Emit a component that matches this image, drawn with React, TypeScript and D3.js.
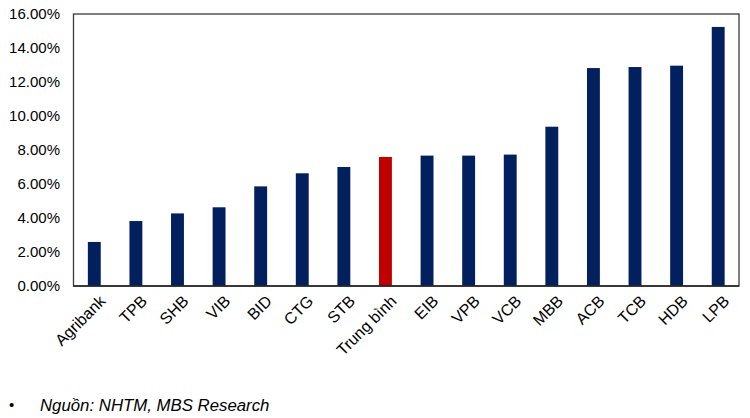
import React from "react";
import * as d3 from "d3";

const categories = ["Agribank", "TPB", "SHB", "VIB", "BID", "CTG", "STB", "Trung bình", "EIB", "VPB", "VCB", "MBB", "ACB", "TCB", "HDB", "LPB"];
const values = [2.59, 3.82, 4.27, 4.63, 5.86, 6.63, 7.0, 7.59, 7.67, 7.67, 7.73, 9.37, 12.82, 12.88, 12.96, 15.24];
const highlight = ["Trung bình"];
const yTicks = [0, 2, 4, 6, 8, 10, 12, 14, 16];
const sourceText = "Nguồn: NHTM, MBS Research";

export default function App() {
  const W = 750, H = 418;
  const left = 73.5, right = 739, top = 14, bottom = 286;
  const x = d3.scaleBand<string>().domain(categories).range([left, right]).paddingInner(0.69).paddingOuter(0.345);
  const y = d3.scaleLinear().domain([0, 16]).range([bottom, top]);
  const font = "Liberation Sans, Arial, sans-serif";
  return (
    <svg width={W} height={H} style={{ position: "absolute", left: 0, top: 0, background: "#fff" }} fontFamily={font}>
      {categories.map((c, i) => (
        <rect key={c} x={x(c)} y={y(values[i])} width={x.bandwidth()} height={y(0) - y(values[i])}
          fill={highlight.includes(c) ? "#c00000" : "#021f5e"} />
      ))}
      <rect x={left} y={top} width={right - left} height={bottom - top} fill="none" stroke="#3a3a3a" strokeWidth={1.3} />
      <line x1={left} x2={right} y1={bottom} y2={bottom} stroke="#222" strokeWidth={1.6} />
      {yTicks.map(t => (
        <text key={t} x={60} y={y(t)} dy="0.36em" textAnchor="end" fontSize={15} fill="#000">{t.toFixed(2)}%</text>
      ))}
      {categories.map(c => {
        const cx = (x(c) as number) + x.bandwidth() / 2 + 4;
        const cy = bottom + 8;
        return (
          <text key={c} transform={`translate(${cx},${cy}) rotate(-45)`} textAnchor="end" dy="0.72em" fontSize={16} fill="#000">{c}</text>
        );
      })}
      <text x={9} y={410} fontSize={15} fill="#000">•</text>
      <text x={40} y={411} fontSize={16.8} fontStyle="italic" fill="#000">{sourceText}</text>
    </svg>
  );
}
